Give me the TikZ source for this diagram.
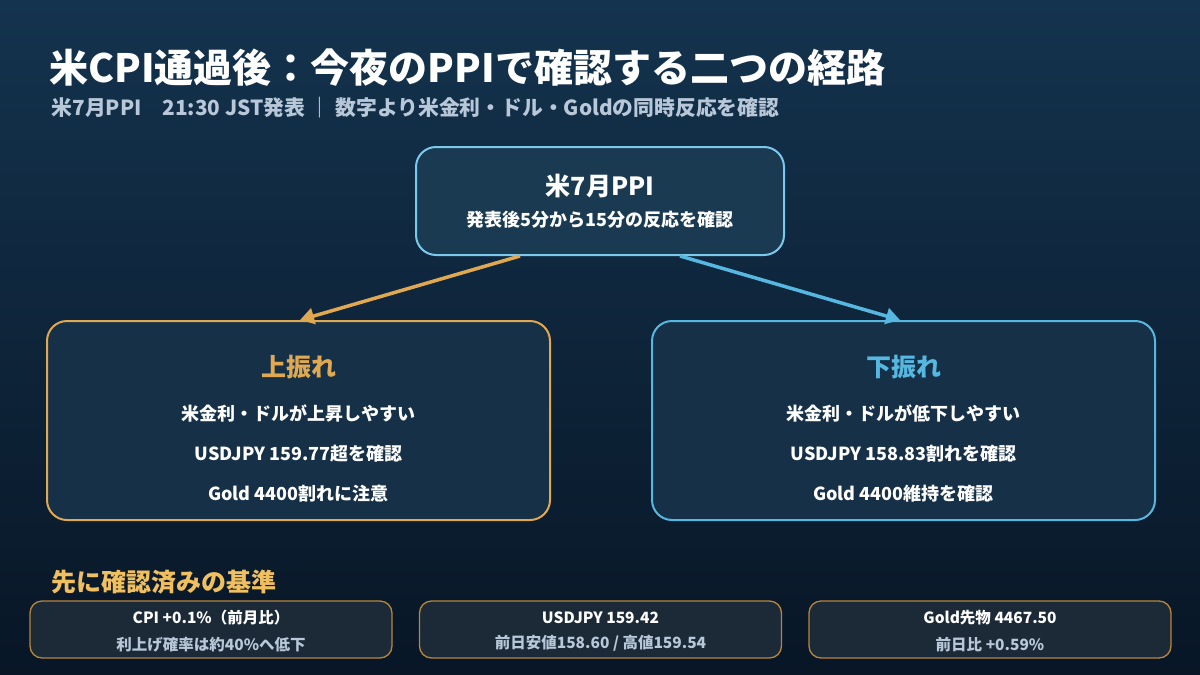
\documentclass[tikz,border=0pt]{standalone}
\usepackage{fontspec}
\setmainfont{Noto Sans CJK JP}
\usetikzlibrary{arrows.meta}
\definecolor{bgtop}{HTML}{14334E}
\definecolor{bgbot}{HTML}{081626}
\definecolor{skyline}{HTML}{7CC8EC}
\definecolor{upcol}{HTML}{E0A850}
\definecolor{downcol}{HTML}{56B8E0}
\definecolor{goldline}{HTML}{B8863A}
\definecolor{subgray}{HTML}{B8C8D8}
\definecolor{basegold}{HTML}{F0C060}
\definecolor{ppifill}{HTML}{1A3A52}
\definecolor{scenfill}{HTML}{163048}
\definecolor{basefill}{HTML}{1C2A38}
\tikzset{
  ppibox/.style={rectangle, rounded corners=20pt, draw=skyline, line width=2pt, fill=ppifill, minimum width=368pt, minimum height=108pt, align=center, text=white, font=\bfseries},
  scenario/.style={rectangle, rounded corners=20pt, line width=2pt, fill=scenfill, minimum width=503pt, minimum height=199pt, align=center, text=white, font=\bfseries},
  basebox/.style={rectangle, rounded corners=12pt, draw=goldline, line width=1.3pt, fill=basefill, minimum width=362pt, minimum height=57pt, align=center, text=white, font=\bfseries},
  arrow/.style={line width=3.5pt, -{Triangle[length=14pt,width=16pt]}}
}
\begin{document}
\begin{tikzpicture}[x=1pt,y=1pt]
\shade[top color=bgtop, bottom color=bgbot] (0,0) rectangle (1200,-675);
\useasboundingbox (0,0) rectangle (1200,-675);

% title
\node (title) [anchor=west, text=white, font=\bfseries\fontsize{39}{44}\selectfont] at (46,-68) {米CPI通過後：今夜のPPIで確認する二つの経路};
\node (sub) [anchor=west, text=subgray, font=\bfseries\fontsize{20.8}{24}\selectfont] at (48,-108) {米7月PPI\quad 21:30 JST発表 ｜ 数字より米金利・ドル・Goldの同時反応を確認};

% main flow
\node (ppi) [ppibox] at (600,-201) {{\fontsize{25}{30}\selectfont 米7月PPI}\\[12pt]{\fontsize{18}{22}\selectfont 発表後5分から15分の反応を確認}};
\node (up) [scenario, draw=upcol] at (298.5,-420.5) {{\fontsize{25}{30}\selectfont\rule{0pt}{38pt}\color{upcol}上振れ}\\[24pt]{\fontsize{18}{23}\selectfont 米金利・ドルが上昇しやすい}\\[22pt]{\fontsize{18}{23}\selectfont USDJPY 159.77超を確認}\\[22pt]{\fontsize{18}{23}\selectfont Gold 4400割れに注意}};
\node (down) [scenario, draw=downcol] at (903.5,-420.5) {{\fontsize{25}{30}\selectfont\rule{0pt}{38pt}\color{downcol}下振れ}\\[24pt]{\fontsize{18}{23}\selectfont 米金利・ドルが低下しやすい}\\[22pt]{\fontsize{18}{23}\selectfont USDJPY 158.83割れを確認}\\[22pt]{\fontsize{18}{23}\selectfont Gold 4400維持を確認}};

\draw [arrow, upcol] ([xshift=-80pt]ppi.south) -- ([xshift=1.5pt]up.north);
\draw [arrow, downcol] ([xshift=80pt]ppi.south) -- ([xshift=-3.5pt]down.north);

% baseline
\node (basehead) [anchor=west, text=basegold, font=\bfseries\fontsize{25}{30}\selectfont] at (48,-582) {先に確認済みの基準};
\node (cpi) [basebox] at (211,-629.5) {{\fontsize{15.5}{18}\selectfont\rule{0pt}{16pt}CPI +0.1\%（前月比）}\\[11pt]{\fontsize{15.5}{18}\selectfont\color{subgray}利上げ確率は約40\%へ低下}};
\node (usdjpy) [basebox] at (600.5,-629.5) {{\fontsize{15.5}{18}\selectfont\rule{0pt}{16pt}USDJPY 159.42}\\[11pt]{\fontsize{15.5}{18}\selectfont\color{subgray}前日安値158.60 / 高値159.54}};
\node (gold) [basebox] at (990,-629.5) {{\fontsize{15.5}{18}\selectfont\rule{0pt}{16pt}Gold先物 4467.50}\\[11pt]{\fontsize{15.5}{18}\selectfont\color{subgray}前日比 +0.59\%}};
\end{tikzpicture}
\end{document}
